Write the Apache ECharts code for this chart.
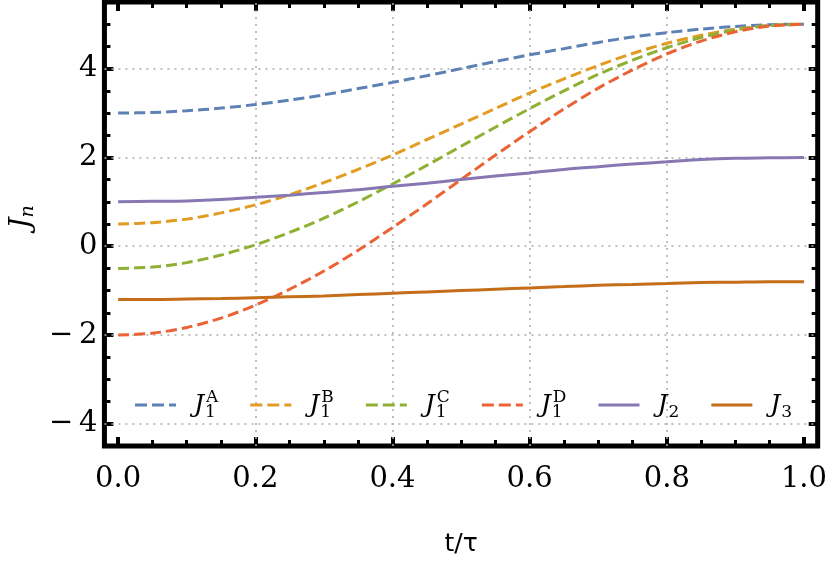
<!DOCTYPE html>
<html>
<head>
<meta charset="utf-8">
<script src="https://cdn.jsdelivr.net/npm/echarts@6/dist/echarts.min.js"></script>
<style>html,body{margin:0;padding:0;background:#fff;}#c{width:830px;height:565px;}</style>
</head>
<body>
<div id="c"></div>
<script>
// ---- data ----
const tValues = [0,0.05,0.1,0.15,0.2,0.25,0.3,0.35,0.4,0.45,0.5,0.55,0.6,0.65,0.7,0.75,0.8,0.85,0.9,0.95,1];
const J1A = [3.00,3.01,3.05,3.11,3.19,3.29,3.41,3.55,3.69,3.84,4.00,4.16,4.31,4.45,4.59,4.71,4.81,4.89,4.95,4.99,5.00];
const J1B = [0.50,0.53,0.61,0.75,0.93,1.16,1.43,1.73,2.05,2.40,2.75,3.10,3.45,3.77,4.07,4.34,4.57,4.75,4.89,4.97,5.00];
const J1C = [-0.50,-0.47,-0.37,-0.20,0.03,0.31,0.63,1.00,1.40,1.82,2.25,2.68,3.10,3.50,3.87,4.19,4.47,4.70,4.87,4.97,5.00];
const J1D = [-2.00,-1.96,-1.83,-1.62,-1.33,-0.97,-0.56,-0.09,0.42,0.95,1.50,2.05,2.58,3.09,3.56,3.97,4.33,4.62,4.83,4.96,5.00];
const J2  = [1.00,1.01,1.02,1.05,1.10,1.15,1.21,1.27,1.35,1.42,1.50,1.58,1.65,1.73,1.79,1.85,1.90,1.95,1.98,1.99,2.00];
const J3  = [-1.20,-1.20,-1.19,-1.18,-1.16,-1.14,-1.12,-1.09,-1.06,-1.03,-1.00,-0.97,-0.94,-0.91,-0.88,-0.86,-0.84,-0.82,-0.81,-0.80,-0.80];

const xMajorTicks = [0,0.2,0.4,0.6,0.8,1.0];
const xMinorTicks = [0.05,0.1,0.15,0.25,0.3,0.35,0.45,0.5,0.55,0.65,0.7,0.75,0.85,0.9,0.95];
const yMajorTicks = [-4,-2,0,2,4];
const yMinorTicks = [-3.5,-3,-2.5,-1.5,-1,-0.5,0.5,1,1.5,2.5,3,3.5,4.5,5];
const xGridLines = [0.2,0.4,0.6,0.8];
const yGridLines = [-4,-2,0,2,4];

const seriesNames = ['J1A','J1B','J1C','J1D','J2','J3'];
const seriesValues = [J1A,J1B,J1C,J1D,J2,J3];
const seriesColors = ['#5E81B5','#E19C24','#8FB032','#EB6235','#8778B3','#C56E1A'];
const seriesDashed = [true,true,true,true,false,false];
const legendLabels = {
  J1A: '{j|J}{s|1}{p|A}', J1B: '{j|J}{s|1}{p|B}', J1C: '{j|J}{s|1}{p|C}',
  J1D: '{j|J}{s|1}{p|D}', J2: '{j|J}{q|2}', J3: '{j|J}{q|3}'
};

const X_MIN = -0.02, X_MAX = 1.02, Y_MIN = -4.5, Y_MAX = 5.5;
const serif = 'DejaVu Serif';

const dashedIcon = 'path://M0,0h12v3h-12zM17,0h12v3h-12zM34,0h7v3h-7z';
const solidIcon = 'path://M0,0h41v3h-41z';

const tickFont = { fontFamily: serif, fontSize: 29, color: '#000' };

function xAxisDef(pos, ticks, major, labels) {
  return {
    type: 'value', position: pos, min: X_MIN, max: X_MAX,
    axisLine: { show: false, onZero: false },
    splitLine: { show: false },
    axisTick: { show: true, inside: true, customValues: ticks, length: major ? 9 : 6,
                lineStyle: { color: '#000', width: major ? 4 : 3 } },
    axisLabel: labels ? Object.assign({ show: true, customValues: ticks, margin: 19,
                rich: { d: tickFont },
                formatter: v => '{d|' + v.toFixed(1) + '}' }, tickFont) : { show: false },
    name: labels ? 't/\u03c4' : '', nameLocation: 'middle', nameGap: 86,
    nameTextStyle: { fontFamily: 'DejaVu Sans', fontSize: 25, color: '#000' }
  };
}
function yAxisDef(pos, ticks, major, labels) {
  return {
    type: 'value', position: pos, min: Y_MIN, max: Y_MAX,
    axisLine: { show: false, onZero: false },
    splitLine: { show: false },
    axisTick: { show: true, inside: true, customValues: ticks, length: major ? 9 : 6,
                lineStyle: { color: '#000', width: major ? 4 : 3 } },
    axisLabel: labels ? Object.assign({ show: true, customValues: ticks, margin: 7,
                rich: { d: tickFont },
                formatter: v => '{d|' + (v < 0 ? '\u2212\u2009' + Math.abs(v) : String(v)) + '}' }, tickFont) : { show: false },
    name: labels ? '{j|J}{n|n}' : '', nameLocation: 'middle', nameGap: 62, nameRotate: 90,
    nameTextStyle: { color: '#000', padding: [0, 0, 0, 14], rich: {
      j: { fontFamily: serif, fontStyle: 'italic', fontSize: 28, color: '#000', lineHeight: 32, verticalAlign: 'middle' },
      n: { fontFamily: serif, fontStyle: 'italic', fontSize: 19, color: '#000', lineHeight: 14, verticalAlign: 'bottom' }
    } }
  };
}

const series = seriesNames.map((name, i) => ({
  name: name, type: 'line', smooth: 0.3, symbol: 'none', z: 3,
  data: tValues.map((t, k) => [t, seriesValues[i][k]]),
  lineStyle: { color: seriesColors[i], width: 3, type: seriesDashed[i] ? [11, 5] : 'solid' },
  itemStyle: { color: seriesColors[i] }
}));
// dotted grid lines
series[0].markLine = {
  silent: true, symbol: 'none', z: 1, animation: false,
  label: { show: false },
  lineStyle: { color: '#ababab', width: 1.5, type: [2, 5] },
  data: xGridLines.map(v => ({ xAxis: v })).concat(yGridLines.map(v => ({ yAxis: v })))
};

const option = {
  animation: false,
  backgroundColor: '#fff',
  textStyle: { fontFamily: serif },
  grid: { left: 103, top: 2, width: 719, height: 444, show: true, borderColor: '#000', borderWidth: 5, backgroundColor: 'transparent' },
  xAxis: [
    xAxisDef('bottom', xMajorTicks, true, true),
    xAxisDef('bottom', xMinorTicks, false, false),
    xAxisDef('top', xMajorTicks, true, false),
    xAxisDef('top', xMinorTicks, false, false)
  ],
  yAxis: [
    yAxisDef('left', yMajorTicks, true, true),
    yAxisDef('left', yMinorTicks, false, false),
    yAxisDef('right', yMajorTicks, true, false),
    yAxisDef('right', yMinorTicks, false, false)
  ],
  legend: {
    left: 130, top: 384, itemWidth: 41, itemHeight: 3, itemGap: 32,
    data: seriesNames.map((n, i) => ({ name: n, icon: seriesDashed[i] ? dashedIcon : solidIcon,
      itemStyle: { color: seriesColors[i] } })),
    formatter: n => legendLabels[n],
    textStyle: { color: '#000', rich: {
      j: { fontFamily: serif, fontStyle: 'italic', fontSize: 25, color: '#000', lineHeight: 32, verticalAlign: 'middle', padding: [0, 1, 0, 13] },
      s: { fontFamily: serif, fontSize: 17, color: '#000', lineHeight: 12, verticalAlign: 'bottom', width: 1 },
      p: { fontFamily: serif, fontSize: 17, color: '#000', lineHeight: 21, verticalAlign: 'top' },
      q: { fontFamily: serif, fontSize: 17, color: '#000', lineHeight: 12, verticalAlign: 'bottom' }
    } }
  },
  series: series
};
const chart = echarts.init(document.getElementById('c'), null, { renderer: 'canvas' });
chart.setOption(option);
</script>
</body>
</html>
